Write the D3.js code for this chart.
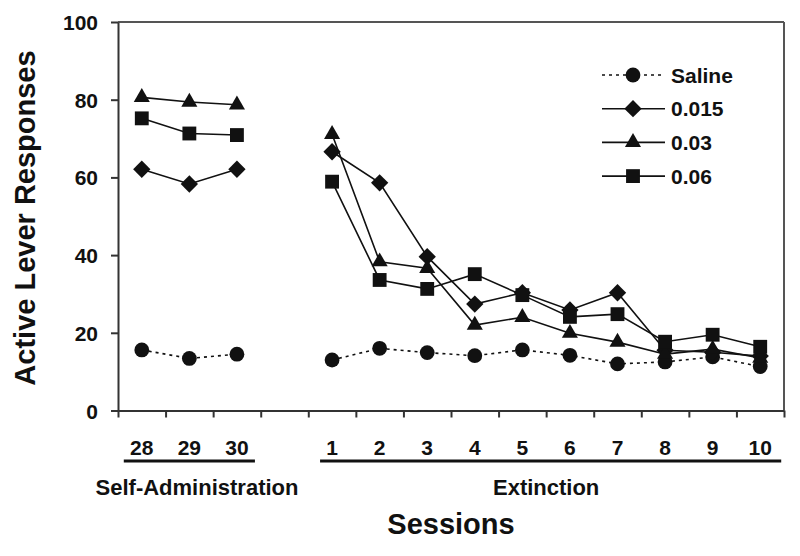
<!DOCTYPE html>
<html>
<head>
<meta charset="utf-8">
<script src="https://cdn.jsdelivr.net/npm/d3@7"></script>
<style>
  html, body { margin: 0; padding: 0; background: #fff; }
  text { font-family: "Liberation Sans", Arial, Helvetica, sans-serif; font-weight: bold; fill: #111; }
</style>
</head>
<body>
<svg id="chart" width="800" height="556"></svg>
<script>
// ---------- data ----------
const sessionsSA  = ["28", "29", "30"];
const sessionsExt = ["1", "2", "3", "4", "5", "6", "7", "8", "9", "10"];
const groupLabels = ["Self-Administration", "Extinction"];
const yTicks = [0, 20, 40, 60, 80, 100];

const salineSA  = [15.6, 13.4, 14.5];
const salineExt = [13.0, 16.0, 14.9, 14.1, 15.6, 14.2, 12.0, 12.5, 13.8, 11.3];
const d015SA  = [62.1, 58.3, 62.1];
const d015Ext = [66.6, 58.6, 39.6, 27.4, 30.3, 25.9, 30.3, 15.5, 15.0, 14.0];
const d03SA   = [80.6, 79.4, 78.7];
const d03Ext  = [71.1, 38.3, 36.6, 22.0, 24.0, 19.9, 17.6, 14.5, 15.8, 13.5];
const d06SA   = [75.2, 71.3, 70.9];
const d06Ext  = [58.9, 33.6, 31.3, 35.1, 29.7, 24.1, 24.8, 17.7, 19.5, 16.4];

const seriesNames = ["Saline", "0.015", "0.03", "0.06"];

(function () {
// ---------- layout ----------
const svg = d3.select("#chart");
const pL = 118, pR = 784, pT = 22, pB = 410.5;

const gapKey = " ";
const categories = [...sessionsSA, gapKey, ...sessionsExt];
const x = d3.scaleBand().domain(categories).range([pL, pR]).padding(0);
const xIdx = d3.scaleLinear().domain([0, categories.length]).range([pL, pR]);
const y = d3.scaleLinear().domain([0, 100]).range([pB, pT]);
const cx = k => x(k) + x.bandwidth() / 2;

// diamond (square rotated 45deg)
const diamond = { draw(ctx, size) { const r = Math.sqrt(size / 2);
  ctx.moveTo(0, -r); ctx.lineTo(r, 0); ctx.lineTo(0, r); ctx.lineTo(-r, 0); ctx.closePath(); } };

const series = [
  { name: seriesNames[0], sa: salineSA, ext: salineExt, sym: d3.symbolCircle, size: 172, dash: "3,4" },
  { name: seriesNames[1], sa: d015SA,  ext: d015Ext,  sym: diamond,           size: 150, dash: null },
  { name: seriesNames[2], sa: d03SA,   ext: d03Ext,   sym: d3.symbolTriangle,  size: 112, dash: null },
  { name: seriesNames[3], sa: d06SA,   ext: d06Ext,   sym: d3.symbolSquare,    size: 192, dash: null }
];

// ---------- frame (top and right) ----------
svg.append("line").attr("x1", pL).attr("x2", pR).attr("y1", pT).attr("y2", pT)
  .attr("stroke", "#555").attr("stroke-width", 2);
svg.append("line").attr("x1", pR).attr("x2", pR).attr("y1", pT).attr("y2", pB)
  .attr("stroke", "#555").attr("stroke-width", 2);

// ---------- axes ----------
const yAxis = svg.append("g").attr("transform", `translate(${pL},0)`)
  .call(d3.axisLeft(y).tickValues(yTicks).tickSize(7).tickPadding(13).tickSizeOuter(0));
yAxis.selectAll("text").style("font-size", "21px").attr("dy", "0.36em");

const xAxis = svg.append("g").attr("transform", `translate(0,${pB})`)
  .call(d3.axisBottom(xIdx).tickValues(d3.range(categories.length + 1)).tickFormat("").tickSize(7).tickSizeOuter(0));

[yAxis, xAxis].forEach(g => {
  g.select(".domain").attr("stroke", "#333").attr("stroke-width", 2);
  g.selectAll(".tick line").attr("stroke", "#333").attr("stroke-width", 2);
});

// x tick labels at band centres
svg.append("g").selectAll("text").data([...sessionsSA, ...sessionsExt]).join("text")
  .attr("x", d => cx(d)).attr("y", 455).attr("text-anchor", "middle")
  .style("font-size", "21px").text(d => d);

// group underlines
const groups = [
  { label: groupLabels[0], cats: sessionsSA, x0: -18, x1: 18, tx: 197 },
  { label: groupLabels[1], cats: sessionsExt, x0: -12, x1: 21, tx: null }
];
groups.forEach(g => {
  const a = cx(g.cats[0]) + g.x0, b = cx(g.cats[g.cats.length - 1]) + g.x1;
  svg.append("line").attr("x1", a).attr("x2", b).attr("y1", 461).attr("y2", 461)
    .attr("stroke", "#111").attr("stroke-width", 3);
  svg.append("text").attr("x", g.tx != null ? g.tx : (cx(g.cats[0]) + cx(g.cats[g.cats.length - 1])) / 2)
    .attr("y", 495).attr("text-anchor", "middle").style("font-size", "22px").text(g.label);
});

// axis titles
svg.append("text").attr("x", (pL + pR) / 2).attr("y", 534).attr("text-anchor", "middle")
  .style("font-size", "29px").text("Sessions");
svg.append("text").attr("transform", `translate(35,218) rotate(-90)`).attr("text-anchor", "middle")
  .style("font-size", "29px").text("Active Lever Responses");

// ---------- series ----------
const line = d3.line().x(d => cx(d.k)).y(d => y(d.v));
series.forEach(s => {
  const g = svg.append("g");
  [[sessionsSA, s.sa], [sessionsExt, s.ext]].forEach(([cats, vals]) => {
    const pts = cats.map((k, i) => ({ k, v: vals[i] }));
    g.append("path").datum(pts).attr("d", line).attr("fill", "none")
      .attr("stroke", "#111").attr("stroke-width", 1.6)
      .attr("stroke-dasharray", s.dash);
    g.selectAll(null).data(pts).join("path")
      .attr("transform", d => `translate(${cx(d.k)},${y(d.v)})`)
      .attr("d", d3.symbol().type(s.sym).size(s.size)).attr("fill", "#111");
  });
});

// ---------- legend ----------
const legend = svg.append("g");
series.forEach((s, i) => {
  const ly = 75 + i * 33.7;
  legend.append("line").attr("x1", 602).attr("x2", 665).attr("y1", ly).attr("y2", ly)
    .attr("stroke", "#111").attr("stroke-width", 1.6).attr("stroke-dasharray", s.dash);
  legend.append("path").attr("transform", `translate(633,${ly})`)
    .attr("d", d3.symbol().type(s.sym).size(s.size)).attr("fill", "#111");
  legend.append("text").attr("x", 671).attr("y", ly).attr("dy", "0.36em")
    .style("font-size", "21px").text(s.name);
});
})();
</script>
</body>
</html>
